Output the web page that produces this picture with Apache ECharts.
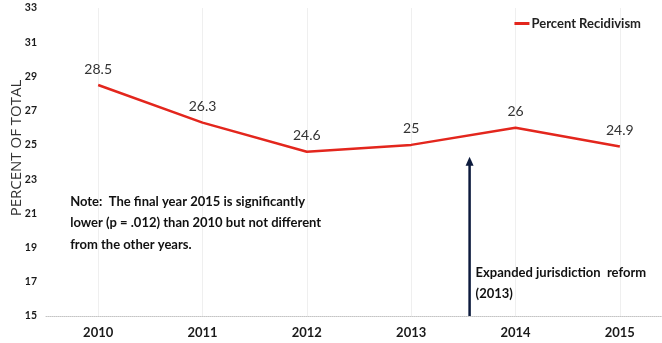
<!DOCTYPE html>
<html><head><meta charset="utf-8">
<script src="https://cdn.jsdelivr.net/npm/echarts@6/dist/echarts.min.js"></script>
<style>html,body{margin:0;padding:0;background:#fff}#c{width:662px;height:343px}</style>
</head><body><div id="c"></div>
<script>
var years = ['2010','2011','2012','2013','2014','2015'];
var recidivism = [28.5, 26.3, 24.6, 25, 26, 24.9];
var yMin = 15, yMax = 33, yStep = 2;
var seriesName = 'Percent Recidivism';
var yAxisTitle = 'PERCENT OF TOTAL';
var noteLines = ['Note:  The final year 2015 is significantly', 'lower (p = .012) than 2010 but not different', 'from the other years.'];
var reformLines = ['Expanded jurisdiction  reform', '(2013)'];
var reformArrowTop = 24.3;

var narrow = 'Lato,"Liberation Sans Narrow",sans-serif';
var red = '#e3261d';
var chart = echarts.init(document.getElementById('c'));
chart.setOption({
  animation: false,
  backgroundColor: '#fff',
  grid: { left: 46, width: 626, top: 8, bottom: 27, containLabel: false, outerBoundsMode: 'none' },
  legend: {
    data: [seriesName], top: 12, right: 16, icon: 'rect', itemWidth: 15, itemHeight: 3, itemGap: 2,
    itemStyle: { color: red, opacity: 1 },
    textStyle: { fontFamily: narrow, fontWeight: 'bold', fontSize: 13, color: '#222', padding: [0,0,0,-3] }
  },
  xAxis: {
    type: 'category', data: years, boundaryGap: true,
    axisLine: { show: true, lineStyle: { color: '#c4c4c4', type: 'dotted', width: 1 } },
    axisTick: { show: false },
    axisLabel: { margin: 10, fontFamily: narrow, fontWeight: 'bold', fontSize: 13, color: '#1a1a1a' },
    splitLine: { show: false }
  },
  yAxis: {
    type: 'value', min: yMin, max: yMax, interval: yStep,
    name: yAxisTitle, nameLocation: 'middle', nameRotate: 90, nameGap: 22, nameMoveOverlap: false,
    nameTextStyle: { fontFamily: '"Open Sans",sans-serif', fontSize: 15, color: '#333', padding: [0, 0, 0, 28] },
    axisLine: { show: false }, axisTick: { show: false }, splitLine: { show: false },
    axisLabel: { margin: 9, fontFamily: narrow, fontWeight: 'bold', fontSize: 10.5, color: '#1a1a1a' }
  },
  series: [{
    name: seriesName, type: 'line', data: recidivism, z: 5,
    symbol: 'circle', symbolSize: 0.01, showSymbol: true,
    lineStyle: { color: red, width: 2.5 }, itemStyle: { color: red },
    label: { show: true, position: 'top', distance: 9, fontFamily: narrow, fontSize: 14, color: '#333' },
    markLine: {
      silent: true, symbol: 'none', label: { show: false }, z: 0,
      lineStyle: { color: '#efefef', width: 1, type: 'solid' },
      data: years.map(function (y) { return { xAxis: y }; })
    }
  }]
});

var x13 = chart.convertToPixel({ xAxisIndex: 0 }, '2013');
var x14 = chart.convertToPixel({ xAxisIndex: 0 }, '2014');
var ax = x13 + (x14 - x13) * 0.56;
var yBot = chart.convertToPixel({ yAxisIndex: 0 }, yMin);
var yTop = chart.convertToPixel({ yAxisIndex: 0 }, reformArrowTop);
var x10 = chart.convertToPixel({ xAxisIndex: 0 }, '2010');

chart.setOption({
  graphic: [
    { type: 'line', shape: { x1: ax, y1: yBot, x2: ax, y2: yTop + 8 }, style: { stroke: '#0d1b3d', lineWidth: 2.5 } },
    { type: 'polygon', shape: { points: [[ax - 4, yTop + 9], [ax + 4, yTop + 9], [ax, yTop]] }, style: { fill: '#0d1b3d' } },
    { type: 'text', left: ax + 6, top: yBot - 54, style: { text: reformLines.join('\n'), font: 'bold 13px ' + narrow, fill: '#111', lineHeight: 21 } },
    { type: 'text', left: x10 - 28, top: 191, style: { text: noteLines.join('\n'), font: 'bold 13px ' + narrow, fill: '#111', lineHeight: 21.5 } }
  ]
});
</script>
</body></html>
